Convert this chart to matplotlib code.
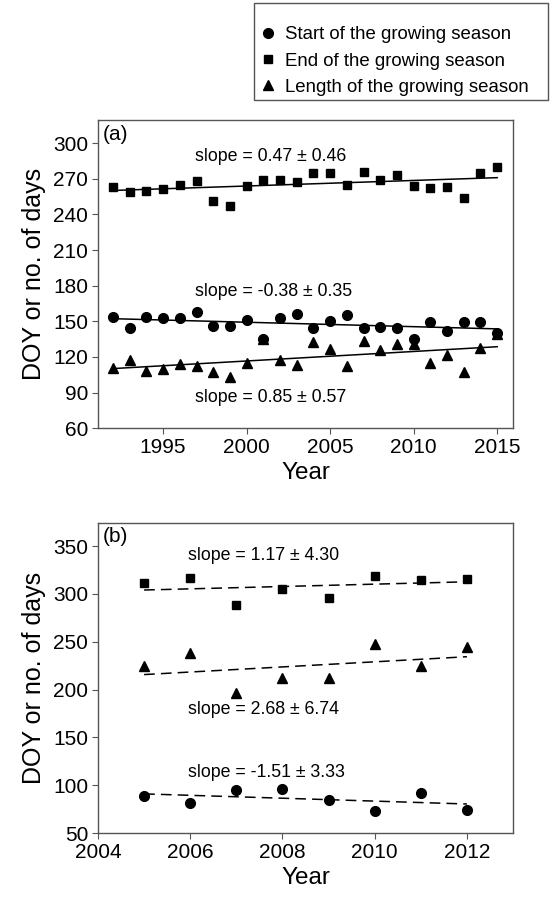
import numpy as np
import matplotlib
matplotlib.use("Agg")
import matplotlib.pyplot as plt
from matplotlib.lines import Line2D
from matplotlib.patches import Rectangle

plt.rcParams['font.family'] = ['Liberation Sans', 'DejaVu Sans']

# Panel (a) data
years_a = list(range(1992, 2016))
start_a = [154, 144, 154, 153, 153, 158, 146, 146, 151, 135, 153, 156,
           144, 150, 155, 144, 145, 144, 135, 149, 142, 149, 149, 140]
end_a = [263, 259, 260, 261, 264.5, 268, 251, 247, 264, 269, 269, 267,
         275, 275, 265, 276, 269, 273, 264, 262, 263, 253.5, 275, 280]
length_a = [110.5, 117, 108, 110, 114, 112, 107, 103, 115, 135, 117.5, 113,
            132.5, 127, 112.5, 133.5, 125.5, 130.5, 131, 114.5, 122, 107, 127.5, 139]

# Panel (b) data
years_b = list(range(2005, 2013))
start_b = [89, 81, 95, 96, 85, 73, 92, 74]
end_b = [311.5, 316.5, 288.5, 305, 296, 319, 315, 315.5]
length_b = [225, 238, 196, 212, 212, 248, 225, 244]

labels = ["Start of the growing season", "End of the growing season",
          "Length of the growing season"]
slopes_a = ["slope = 0.47 ± 0.46", "slope = -0.38 ± 0.35", "slope = 0.85 ± 0.57"]
slopes_b = ["slope = 1.17 ± 4.30", "slope = 2.68 ± 6.74", "slope = -1.51 ± 3.33"]

W, H = 558, 909
fig = plt.figure(figsize=(W / 100, H / 100), dpi=100)
ax1 = fig.add_axes([0.1756, 0.529, 0.9194 - 0.1756, 0.868 - 0.529])
ax2 = fig.add_axes([0.1756, 0.0836, 0.9194 - 0.1756, 0.425 - 0.0836])

spine_c = '#555555'
mk = dict(color='black', linestyle='none')
TICK_FS = 15
SLOPE_FS = 12.8
LABEL_FS = 18

def style(ax):
    for s in ax.spines.values():
        s.set_color(spine_c)
        s.set_linewidth(1.0)
    ax.tick_params(axis='both', labelsize=TICK_FS, direction='out', length=4,
                   color=spine_c, top=False, right=False, pad=3)

def fit_line(ax, x, y, ls):
    x = np.array(x, float); y = np.array(y, float)
    p = np.polyfit(x, y, 1)
    xs = np.array([x.min(), x.max()])
    ax.plot(xs, np.polyval(p, xs), color='black', lw=1.1, ls=ls)

# Panel (a)
ax1.plot(years_a, start_a, marker='o', ms=7, **mk)
ax1.plot(years_a, end_a, marker='s', ms=6.3, **mk)
ax1.plot(years_a, length_a, marker='^', ms=7, **mk)
for y in (start_a, end_a, length_a):
    fit_line(ax1, years_a, y, '-')
ax1.set_xlim(1991.1, 2015.95)
ax1.set_ylim(60, 319.5)
ax1.set_xticks([1995, 2000, 2005, 2010, 2015])
ax1.set_yticks(range(60, 301, 30))
ax1.text(1996.9, 288.5, slopes_a[0], fontsize=SLOPE_FS, va='center')
ax1.text(1996.9, 175.3, slopes_a[1], fontsize=SLOPE_FS, va='center')
ax1.text(1996.9, 85.8, slopes_a[2], fontsize=SLOPE_FS, va='center')
ax1.text(0.012, 0.985, "(a)", transform=ax1.transAxes, fontsize=15, va='top')
ax1.set_xlabel("Year", fontsize=17.5, labelpad=4)
ax1.set_ylabel("DOY or no. of days", fontsize=LABEL_FS, labelpad=5)
style(ax1)

# Panel (b)
ax2.plot(years_b, start_b, marker='o', ms=7, **mk)
ax2.plot(years_b, end_b, marker='s', ms=6.3, **mk)
ax2.plot(years_b, length_b, marker='^', ms=7, **mk)
for y in (start_b, end_b, length_b):
    fit_line(ax2, years_b, y, (0, (7, 4)))
ax2.set_xlim(2004, 2013)
ax2.set_ylim(50, 374.5)
ax2.set_xticks([2004, 2006, 2008, 2010, 2012])
ax2.set_yticks(range(50, 351, 50))
ax2.text(2005.95, 340.6, slopes_b[0], fontsize=SLOPE_FS, va='center')
ax2.text(2005.95, 179.5, slopes_b[1], fontsize=SLOPE_FS, va='center')
ax2.text(2005.95, 113, slopes_b[2], fontsize=SLOPE_FS, va='center')
ax2.text(0.012, 0.985, "(b)", transform=ax2.transAxes, fontsize=15, va='top')
ax2.set_xlabel("Year", fontsize=17.5, labelpad=4)
ax2.set_ylabel("DOY or no. of days", fontsize=LABEL_FS, labelpad=5)
style(ax2)

handles = [Line2D([], [], marker='o', ms=7, **mk),
           Line2D([], [], marker='s', ms=6.3, **mk),
           Line2D([], [], marker='^', ms=7, **mk)]
leg = fig.legend(handles, labels, loc='upper left',
                 bbox_to_anchor=(252 / W, 1 - 16 / H),
                 fontsize=13.4, frameon=False,
                 handlelength=0.6, handletextpad=0.6, labelspacing=0.5,
                 borderpad=0.55, borderaxespad=0.0)

# legend frame
fig.patches.append(Rectangle((254 / W, 1 - 100 / H), (548 - 254) / W, 97 / H,
                             transform=fig.transFigure, fill=False,
                             edgecolor=spine_c, linewidth=1.0))

fig.savefig("out.png", dpi=100)
